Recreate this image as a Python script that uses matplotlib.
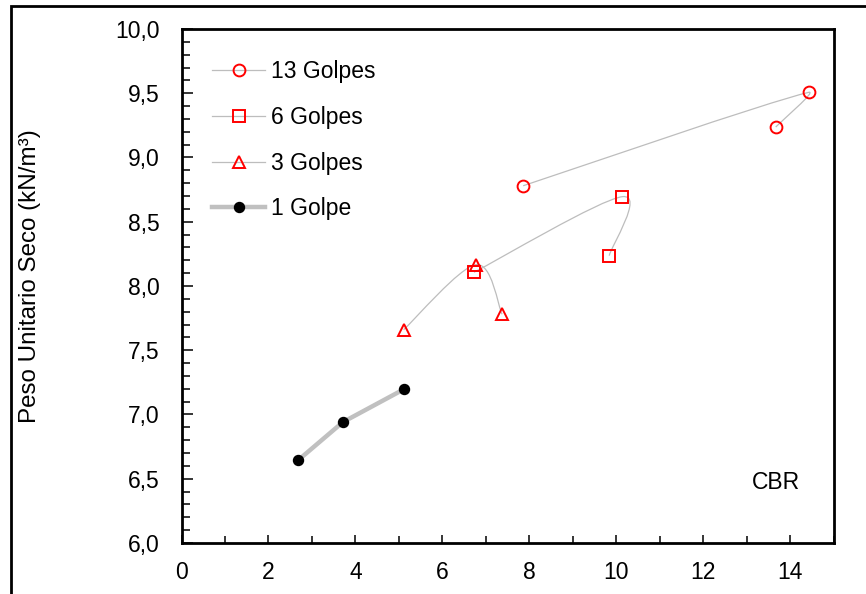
import numpy as np
import matplotlib.pyplot as plt
from matplotlib.path import Path
from matplotlib.patches import PathPatch, Rectangle
from matplotlib.lines import Line2D
from matplotlib.ticker import MultipleLocator, FuncFormatter

plt.rcParams['font.family'] = ['Liberation Sans', 'DejaVu Sans']

# CBR: dry unit weight vs water content for each compaction energy
x13 = [7.86, 14.43, 13.67]
y13 = [8.78, 9.507, 9.237]
x6 = [6.73, 10.14, 9.84]
y6 = [8.107, 8.695, 8.236]
x3 = [5.11, 6.77, 7.375]
y3 = [7.66, 8.166, 7.78]
x1 = [2.69, 3.71, 5.115]
y1 = [6.646, 6.94, 7.196]

labels = ['13 Golpes', '6 Golpes', '3 Golpes', '1 Golpe']

gray = '#bdbdbd'
fs = 16.5


def smooth_path(ax, xs, ys):
    # smoothed line: cubic Bezier segments with Catmull-Rom tangents,
    # tangents shortened when the next segment is much shorter (screen space)
    pts = ax.transData.transform(np.column_stack([xs, ys]))
    n = len(pts)
    verts = [pts[0]]
    codes = [Path.MOVETO]
    for i in range(n - 1):
        p0 = pts[i - 1] if i > 0 else pts[i]
        p1 = pts[i]
        p2 = pts[i + 1]
        p3 = pts[i + 2] if i + 2 < n else pts[i + 1]
        d12 = np.hypot(*(p2 - p1))
        f1 = 1.0
        if i > 0:
            d01 = np.hypot(*(p1 - p0))
            f1 = min(1.0, (d12 / d01) / 0.35) ** 2
        f2 = 1.0
        if i + 2 < n:
            d23 = np.hypot(*(p3 - p2))
            f2 = min(1.0, (d12 / d23) / 0.35) ** 2
        c1 = p1 + (p2 - p0) / 6 * f1
        c2 = p2 - (p3 - p1) / 6 * f2
        verts += [c1, c2, p2]
        codes += [Path.CURVE4] * 3
    inv = ax.transData.inverted()
    return Path(inv.transform(np.array(verts)), codes)


fig = plt.figure(figsize=(8.66, 5.94), dpi=100)
ax = fig.add_axes([0.2096, 0.0859, 0.7529, 0.8653])
ax.set_xlim(0, 15)
ax.set_ylim(6, 10)

for xs, ys in [(x13, y13), (x6, y6), (x3, y3)]:
    ax.add_patch(PathPatch(smooth_path(ax, xs, ys), facecolor='none',
                           edgecolor=gray, lw=0.9, zorder=2))

ax.plot(x1, y1, color='#c0c0c0', lw=3.2, zorder=2, solid_capstyle='butt')

mk = dict(ls='none', mfc='none', mec='red', mew=1.4, ms=8.5, zorder=3)
ax.plot(x13, y13, marker='o', **mk)
ax.plot(x6, y6, marker='s', **mk)
ax.plot(x3, y3, marker='^', **mk)
ax.plot(x1, y1, ls='none', marker='o', color='black', ms=7.2, zorder=3)

ax.xaxis.set_major_locator(MultipleLocator(2))
ax.xaxis.set_minor_locator(MultipleLocator(1))
ax.yaxis.set_major_locator(MultipleLocator(0.5))
ax.yaxis.set_minor_locator(MultipleLocator(0.1))
ax.yaxis.set_major_formatter(FuncFormatter(lambda v, p: ('%.1f' % v).replace('.', ',')))
ax.xaxis.set_major_formatter(FuncFormatter(lambda v, p: '%d' % v))

ax.tick_params(which='both', direction='in', width=1.1, labelsize=fs)
ax.tick_params(axis='y', which='major', length=8, pad=16)
ax.tick_params(axis='y', which='minor', length=6)
ax.tick_params(axis='x', which='major', length=6, pad=13)
ax.tick_params(axis='x', which='minor', length=5)
for s in ax.spines.values():
    s.set_linewidth(2)

fig.text(30 / 866, 1 - 276 / 594, 'Peso Unitario Seco (kN/m³)', rotation=90,
         ha='center', va='center', fontsize=17.4)

ax.text(0.912, 0.117, 'CBR', transform=ax.transAxes, ha='center', va='center',
        fontsize=fs)

red = dict(color=gray, lw=0.9, mfc='none', mec='red', mew=1.4, ms=8.5)
handles = [
    Line2D([], [], marker='o', **red),
    Line2D([], [], marker='s', **red),
    Line2D([], [], marker='^', **red),
    Line2D([], [], color='#c0c0c0', lw=3.2, marker='o', mfc='black', mec='black', ms=7.2),
]
ax.legend(handles, labels, loc='upper left', frameon=False, fontsize=fs,
          handlelength=2.3, handletextpad=0.26, labelspacing=1.0,
          bbox_to_anchor=(0.033, 0.958), borderaxespad=0)

# outer frame around the whole chart
fig.patches.append(Rectangle((11 / 866, -0.1), 1.2, 1.1 - 6 / 594,
                             transform=fig.transFigure, fill=False,
                             edgecolor='black', lw=2, zorder=0))

fig.savefig('out.png', dpi=100)
